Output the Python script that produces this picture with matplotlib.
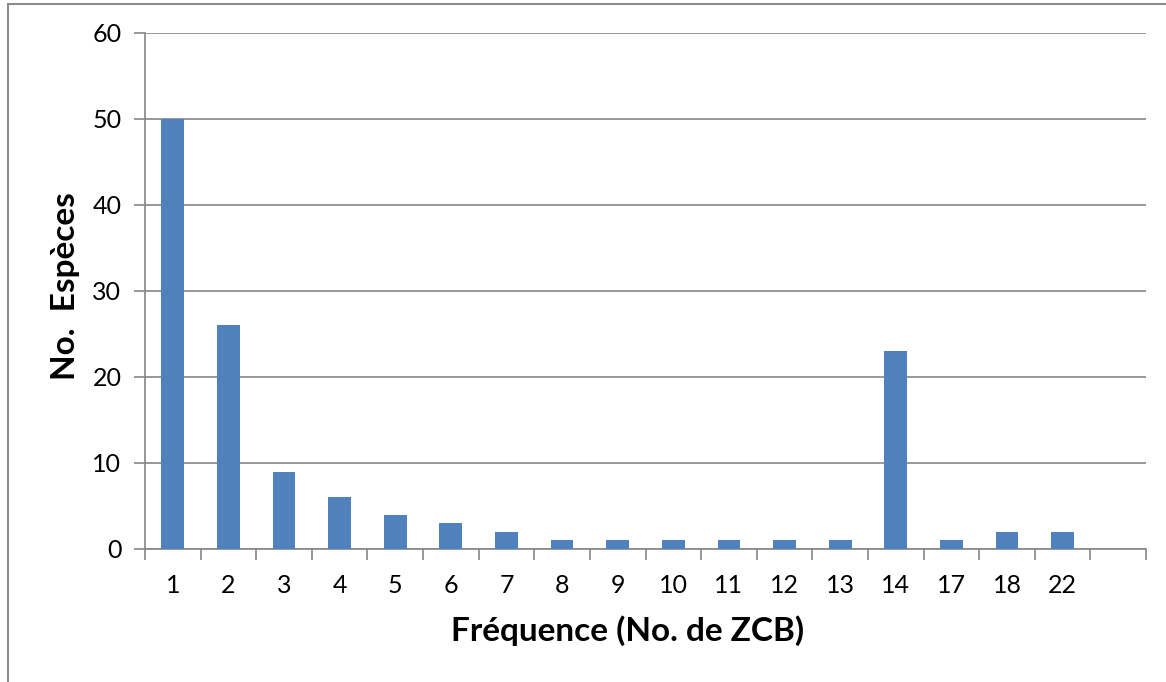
import numpy as np
import matplotlib
matplotlib.use("Agg")
import matplotlib.pyplot as plt
from matplotlib.lines import Line2D

# data
freq = ['1', '2', '3', '4', '5', '6', '7', '8', '9', '10', '11', '12', '13', '14', '17', '18', '22']
especes = [50, 26, 9, 6, 4, 3, 2, 1, 1, 1, 1, 1, 1, 23, 1, 2, 2]
yticks = [0, 10, 20, 30, 40, 50, 60]

plt.rcParams['font.family'] = ['Lato', 'DejaVu Sans']

W, H = 1166, 682
fig = plt.figure(figsize=(W / 100, H / 100), dpi=100)
ax = fig.add_axes([145 / W, 1 - 549 / H, (1146 - 145) / W, (549 - 33) / H])

grey = '#868686'
x = np.arange(len(freq))
ax.bar(x, especes, width=0.41, color='#4F81BD', zorder=3)

# one empty slot after the last category
ax.set_xlim(-0.5, len(freq) + 0.5)
ax.set_ylim(0, 60)

ax.set_yticks(yticks)
ax.set_yticklabels([str(v) for v in yticks], fontsize=18)
ax.yaxis.grid(True, color=grey, linewidth=1.2, zorder=0)

# ticks between categories, labels at centers
ax.set_xticks(np.arange(len(freq) + 2) - 0.5)
ax.set_xticklabels([])
ax.set_xticks(x, minor=True)
ax.set_xticklabels(freq, minor=True, fontsize=18)
ax.tick_params(axis='x', which='major', length=8, width=1.2, color=grey)
ax.tick_params(axis='x', which='minor', length=0, pad=18)
ax.tick_params(axis='y', length=8, width=1.2, color=grey, pad=9)

for s in ['top', 'right']:
    ax.spines[s].set_visible(False)
for s in ['left', 'bottom']:
    ax.spines[s].set_color(grey)
    ax.spines[s].set_linewidth(1.2)

fig.text(628 / W, 1 - 631 / H, 'Fréquence (No. de ZCB)', fontsize=24, fontweight='bold',
         ha='center', va='center')
fig.text(66 / W, 1 - 286 / H, 'No.  Espèces', fontsize=24, fontweight='bold',
         ha='center', va='center', rotation=90)

# outer chart border (partly cropped in the original)
fig.add_artist(Line2D([8 / W, 8 / W], [0, 1 - 4 / H], color='#8c8c8c', linewidth=1.5))
fig.add_artist(Line2D([8 / W, 1], [1 - 4 / H, 1 - 4 / H], color='#8c8c8c', linewidth=1.5))

fig.savefig('out.png', dpi=100)
